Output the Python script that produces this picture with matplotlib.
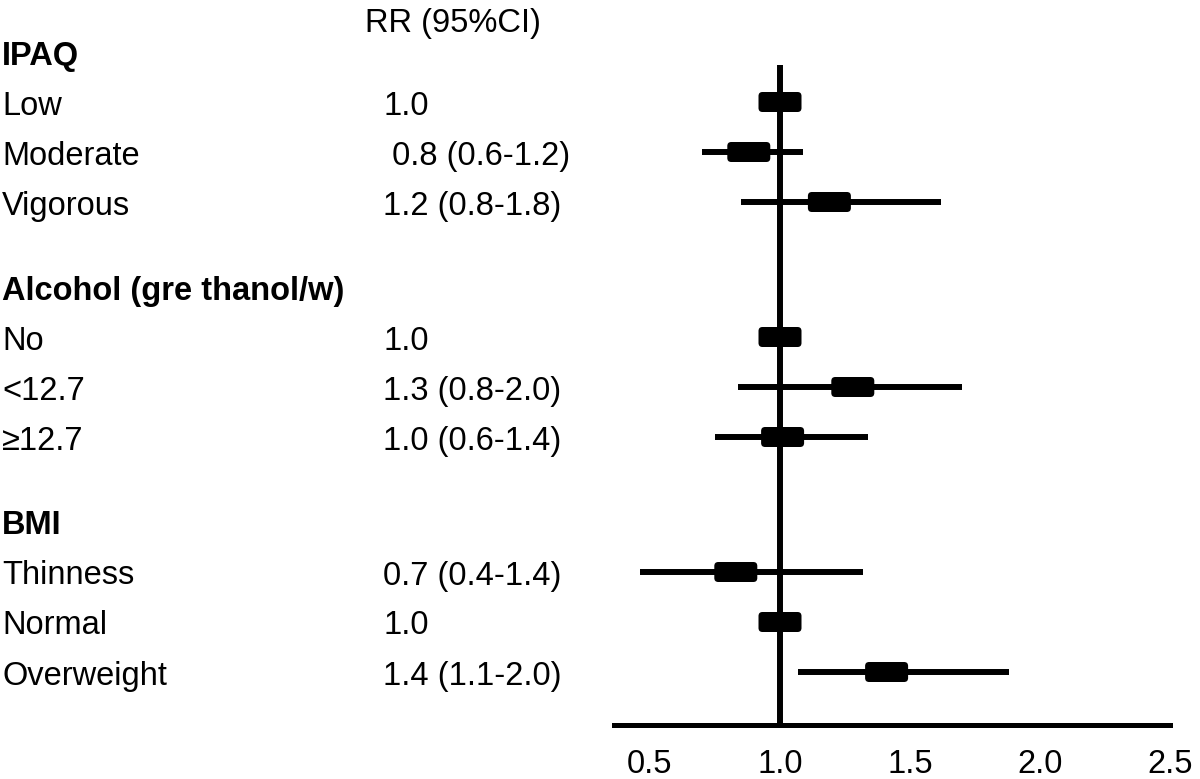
import matplotlib
matplotlib.use("Agg")
import matplotlib.pyplot as plt
import matplotlib.transforms as mtransforms
from matplotlib.patches import FancyBboxPatch

plt.rcParams['font.family'] = ['Liberation Sans', 'DejaVu Sans']

# Datos del gráfico
groups = ["IPAQ", "Alcohol (gre thanol/w)", "BMI"]
row_labels = [["Low", "Moderate", "Vigorous"],
              ["No", "<12.7", "≥12.7"],
              ["Thinness", "Normal", "Overweight"]]
rr_text = [["1.0", " 0.8 (0.6-1.2)", "1.2 (0.8-1.8)"],
           ["1.0", "1.3 (0.8-2.0)", "1.0 (0.6-1.4)"],
           ["0.7 (0.4-1.4)", "1.0", "1.4 (1.1-2.0)"]]
# posiciones (escala del eje)
rr = [[1.0, 0.88, 1.19],
      [1.0, 1.28, 1.01],
      [0.83, 1.0, 1.41]]
ci_low = [[None, 0.70, 0.85],
          [None, 0.84, 0.75],
          [0.46, None, 1.07]]
ci_high = [[None, 1.09, 1.62],
           [None, 1.70, 1.34],
           [1.32, None, 1.88]]
ticks = [0.5, 1.0, 1.5, 2.0, 2.5]

# Layout (pixeles)
W, H = 1200, 779
px_per_unit = 260
axis_y = 725
first_y = 52
line_step = 50
group_gap = 35
fs = 23.5

fig = plt.figure(figsize=(W / 100, H / 100), dpi=100)
xmin, xmax = 0.36, 2.5
left_px = 780 - (1.0 - xmin) * px_per_unit
ax = fig.add_axes([left_px / W, (H - axis_y) / H,
                   (xmax - xmin) * px_per_unit / W, axis_y / H])
ax.set_xlim(xmin, xmax)
ax.set_ylim(axis_y, 0)
for s in ["top", "right", "left"]:
    ax.spines[s].set_visible(False)
ax.spines["bottom"].set_linewidth(3.6)
ax.set_yticks([])
ax.set_xticks(ticks)
ax.set_xticklabels([f"{t:.1f}" for t in ticks])
ax.tick_params(axis="x", length=0, pad=17, labelsize=fs)
ax.patch.set_alpha(0)

tr = mtransforms.blended_transform_factory(fig.transFigure, ax.transData)

def text_y(y):
    return y + 12.5

ax.text(365 / W, text_y(19), "RR (95%CI)", transform=tr, fontsize=fs,
        va="baseline", clip_on=False)

y = first_y
row_ys = []
for g in range(len(groups)):
    ax.text(2 / W, text_y(y), groups[g], transform=tr, fontsize=fs,
            fontweight="bold", va="baseline", clip_on=False)
    for i in range(len(row_labels[g])):
        y += line_step
        row_ys.append(y)
        ax.text(2 / W, text_y(y), row_labels[g][i], transform=tr, fontsize=fs,
                va="baseline", clip_on=False)
        ax.text(383 / W, text_y(y), rr_text[g][i], transform=tr, fontsize=fs,
                va="baseline", clip_on=False)
        if ci_low[g][i] is not None:
            ax.hlines(y, ci_low[g][i], ci_high[g][i], color="black",
                      lw=4.3, capstyle="butt", zorder=3)
        bw = 43 / px_per_unit
        bh = 20
        box = FancyBboxPatch((rr[g][i] - bw / 2, y - bh / 2), bw, bh,
                             boxstyle=f"round,pad=0,rounding_size={4 / px_per_unit}",
                             mutation_aspect=px_per_unit,
                             fc="black", ec="none", zorder=4)
        ax.add_patch(box)
    # espacio entre grupos
    y += line_step + group_gap

# linea de referencia en 1.0
ax.vlines(1.0, row_ys[0] - 37, axis_y, color="black", lw=4.3, zorder=2)

plt.savefig("out.png", dpi=100)
